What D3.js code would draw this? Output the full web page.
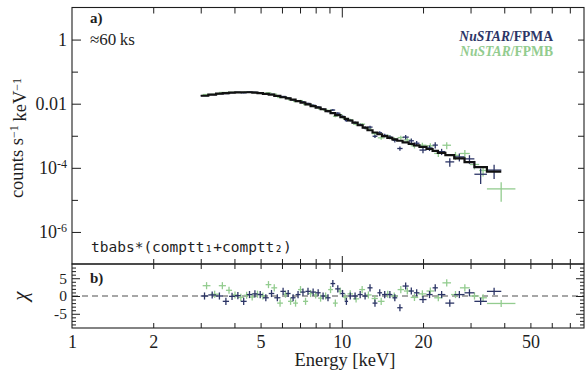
<!DOCTYPE html>
<html><head><meta charset="utf-8">
<script src="https://cdn.jsdelivr.net/npm/d3@7"></script>
<style>body{margin:0;background:#fff}svg{display:block}</style>
</head><body>
<svg id="chart" width="587" height="376"></svg>
<script>
// ---- spectral model (counts s^-1 keV^-1) ----
const modelEnergy = [3.0,3.5,4.0,4.5,5.0,5.5,6.0,6.5,7.0,7.5,8.0,8.5,9.0,9.5,10,11,12,13,14,15,16,17,18,20,22,24,26,28,30,32,34,36,38,40,44];
const modelFlux = [1.70e-2,2.04e-2,2.24e-2,2.29e-2,2.14e-2,1.91e-2,1.62e-2,1.38e-2,1.15e-2,9.55e-3,7.94e-3,6.76e-3,5.62e-3,4.68e-3,3.89e-3,2.75e-3,1.91e-3,1.35e-3,1.07e-3,8.71e-4,7.41e-4,6.46e-4,5.62e-4,4.47e-4,3.47e-4,2.75e-4,2.29e-4,1.82e-4,1.45e-4,1.12e-4,9.33e-5,7.94e-5,7.08e-5,6.31e-5,5.01e-5];

// ---- FPMA spectrum: bin edges (keV), rate, fractional error, residual ----
const fpmaEdges = [3.0,3.2,3.42,3.62,3.82,4.02,4.22,4.44,4.66,4.87,5.1,5.36,5.62,5.92,6.2,6.46,6.74,7.03,7.33,7.66,8.0,8.35,8.7,9.08,9.45,9.88,10.25,10.55,10.95,11.45,11.95,12.45,13.0,13.55,14.1,14.75,15.4,16.05,16.8,17.7,18.5,19.4,20.6,21.7,22.7,24.2,26.1,28.5,31.0,34.5,39.0];
const fpmaFlux = [1.78e-2,1.92e-2,2.04e-2,2.06e-2,2.21e-2,2.26e-2,2.18e-2,2.32e-2,2.27e-2,2.17e-2,
  1.99e-2,1.95e-2,1.71e-2,1.68e-2,1.50e-2,1.31e-2,1.23e-2,1.14e-2,1.02e-2,8.91e-3,
  7.89e-3,6.71e-3,5.74e-3,6.34e-3,5.05e-3,4.02e-3,2.98e-3,3.00e-3,2.56e-3,2.20e-3,
  1.78e-3,1.86e-3,9.64e-4,1.24e-3,1.03e-3,9.10e-4,7.21e-4,4.00e-4,9.06e-4,6.97e-4,
  5.85e-4,3.57e-4,4.17e-4,5.11e-4,3.20e-4,1.53e-4,2.19e-4,1.90e-4,6.3e-5,8.5e-5];
const fpmaRelErr = [.025,.025,.025,.025,.025,.03,.03,.03,.03,.03,.035,.035,.035,.04,.04,.04,.04,.05,.05,.05,.06,.06,.06,.07,.07,.08,.08,.08,.09,.09,.11,.11,.12,.12,.13,.14,.14,.15,.16,.18,.18,.2,.2,.22,.22,.3,.28,.3,.5,.47];
const fpmaChi = [0.0,0.3,0.0,-1.5,-0.1,0.1,-1.5,0.4,0.6,0.4,
  -0.5,0.7,-0.5,1.3,0.7,-0.5,0.4,1.1,1.3,1.1,
  0.9,0.0,-0.5,3.5,2.0,0.7,-1.5,0.0,0.0,0.4,
  0.0,2.3,-2.0,0.9,0.4,0.4,-0.5,-3.3,2.8,1.4,
  0.9,-1.0,0.4,2.3,0.4,-2.0,0.4,0.9,-1.5,1.3];

// ---- FPMB spectrum ----
const fpmbEdges = [3.05,3.26,3.5,3.72,3.92,4.12,4.33,4.55,4.76,4.98,5.22,5.48,5.76,6.05,6.32,6.6,6.88,7.18,7.5,7.83,8.17,8.52,8.9,9.27,9.66,10.06,10.5,11.0,11.6,12.2,12.9,13.6,14.4,15.2,16.1,17.0,18.0,19.2,20.6,22.0,23.6,25.4,27.4,29.8,32.3,34.5,44.0];
const fpmbFlux = [1.93e-2,1.96e-2,2.24e-2,2.26e-2,2.26e-2,2.24e-2,2.31e-2,2.25e-2,2.22e-2,2.09e-2,
  2.19e-2,1.98e-2,1.56e-2,1.57e-2,1.32e-2,1.17e-2,1.25e-2,9.40e-3,9.29e-3,8.09e-3,
  6.82e-3,6.31e-3,6.19e-3,4.07e-3,4.53e-3,3.45e-3,3.14e-3,2.29e-3,2.30e-3,1.64e-3,
  1.17e-3,8.63e-4,9.70e-4,7.85e-4,8.75e-4,7.38e-4,4.88e-4,5.06e-4,4.85e-4,2.81e-4,
  5.06e-4,2.45e-4,2.80e-4,1.27e-4,8.26e-5,2.2e-5];
const fpmbRelErr = [.025,.025,.025,.025,.03,.03,.03,.03,.03,.035,.035,.035,.035,.04,.04,.04,.05,.05,.05,.06,.06,.06,.07,.07,.07,.08,.08,.09,.09,.11,.12,.13,.14,.14,.15,.16,.18,.2,.2,.22,.25,.28,.28,.3,.35,.6];
const fpmbChi = [2.9,0.5,2.9,1.6,0.3,-0.4,0.2,-0.3,0.5,0.0,
  3.2,2.3,-2.0,0.5,-1.5,-2.0,1.8,-1.5,0.7,0.3,
  -0.6,0.0,1.8,-2.0,1.4,-0.3,0.6,-0.8,1.8,0.3,
  -0.7,-1.5,0.5,0.0,1.8,1.4,-0.4,0.6,1.4,-0.5,
  3.7,0.4,2.3,0.0,-0.5,-2.1];

// ---- ticks ----
const xTickLabels = [1,2,5,10,20,50];
const xMinorTicks = [2,3,4,5,6,7,8,9,20,30,40,50,60,70];
const xMajorTicks = [10];
const yTickLabels = [1,1e-2,1e-4,1e-6];
const yMinorTicks = [1e-1,1e-3,1e-5];
const chiTickLabels = [-5,0,5];
const chiMinorTicks = [-8,-7,-6,-4,-3,-2,-1,1,2,3,4,6,7,8];

const colA = '#2c3566', colB = '#93cc8f', ink = '#1e1e1e';
const serif = '"Liberation Serif","Times New Roman",serif';

const L = 72, R = 584, T = 7.5, M = 264, B = 328;
const x = d3.scaleLog().domain([1, 79]).range([L, R]);
const yTop = d3.scaleLog().domain([1e-7, 10]).range([M, T]);
const yRes = d3.scaleLinear().domain([-9, 9]).range([B, M]);

const svg = d3.select('#chart');

// bins with geometric centres
function bins(edges, flux, rel, chi) {
  return flux.map((f, i) => ({
    lo: edges[i], hi: edges[i + 1], c: Math.sqrt(edges[i] * edges[i + 1]),
    f, e: f * rel[i], chi: chi[i]
  }));
}
const binsA = bins(fpmaEdges, fpmaFlux, fpmaRelErr, fpmaChi);
const binsB = bins(fpmbEdges, fpmbFlux, fpmbRelErr, fpmbChi);

// residual zero line
svg.append('line').attr('x1', L).attr('x2', R)
  .attr('y1', yRes(0)).attr('y2', yRes(0))
  .attr('stroke', '#8a8a8a').attr('stroke-width', 1.3).attr('stroke-dasharray', '6,4');

function drawCrosses(data, color) {
  const g = svg.append('g').attr('stroke', color).attr('stroke-width', 1.3).attr('fill', 'none');
  g.selectAll('.h').data(data).join('line')
    .attr('x1', d => x(d.lo)).attr('x2', d => x(d.hi))
    .attr('y1', d => yTop(d.f)).attr('y2', d => yTop(d.f));
  g.selectAll('.v').data(data).join('line')
    .attr('x1', d => x(d.c)).attr('x2', d => x(d.c))
    .attr('y1', d => yTop(Math.max(d.f - d.e, 1e-7))).attr('y2', d => yTop(d.f + d.e));
  const r = svg.append('g').attr('stroke', color).attr('stroke-width', 1.3);
  r.selectAll('.h').data(data).join('line')
    .attr('x1', d => x(d.lo)).attr('x2', d => x(d.hi))
    .attr('y1', d => yRes(d.chi)).attr('y2', d => yRes(d.chi));
  r.selectAll('.v').data(data).join('line')
    .attr('x1', d => x(d.c)).attr('x2', d => x(d.c))
    .attr('y1', d => yRes(d.chi - 1)).attr('y2', d => yRes(d.chi + 1));
}
drawCrosses(binsB, colB);
drawCrosses(binsA, colA);

// folded model, stepped over the FPMA bins
const logModel = d3.scaleLog().domain(modelEnergy).range(modelFlux.map(Math.log10));
const steps = binsA.map(d => [d.lo, Math.pow(10, logModel(d.c))]);
steps.push([binsA[binsA.length - 1].hi, steps[steps.length - 1][1]]);
svg.append('path').datum(steps)
  .attr('d', d3.line().x(d => x(d[0])).y(d => yTop(d[1])).curve(d3.curveStepAfter))
  .attr('fill', 'none').attr('stroke', '#111').attr('stroke-width', 2.2);

// ---- axes ----
function axis(gen, tx, ty, values, size, fmt, pad, fs) {
  const g = svg.append('g').attr('transform', `translate(${tx},${ty})`)
    .call(gen.tickValues(values).tickSize(-size).tickSizeOuter(0)
      .tickPadding(pad || 4).tickFormat(fmt || (() => '')));
  g.select('.domain').remove();
  g.selectAll('line').attr('stroke', ink).attr('stroke-width', 1);
  g.selectAll('text').attr('font-family', serif).attr('font-size', fs || 18).attr('fill', ink);
  return g;
}
// top panel
const yLab = axis(d3.axisLeft(yTop), L, 0, yTickLabels, 9, d => d, 5);
yLab.selectAll('text').each(function (d) {
  const t = d3.select(this).text(null);
  const p = Math.round(Math.log10(d));
  if (p >= -2) t.text(d === 1 ? '1' : '0.01');
  else {
    t.append('tspan').text('10');
    t.append('tspan').attr('dy', '-0.5em').attr('font-size', 12).text(String(p));
  }
});
axis(d3.axisLeft(yTop), L, 0, yMinorTicks, 6);
axis(d3.axisRight(yTop), R, 0, yTickLabels, 6);
axis(d3.axisRight(yTop), R, 0, yMinorTicks, 6);
axis(d3.axisTop(x), 0, T, xMinorTicks, 6);
axis(d3.axisTop(x), 0, T, xMajorTicks, 10);
axis(d3.axisBottom(x), 0, M, xMinorTicks, 5);
axis(d3.axisBottom(x), 0, M, xMajorTicks, 8);
// residual panel
axis(d3.axisTop(x), 0, M, xMinorTicks, 5);
axis(d3.axisTop(x), 0, M, xMajorTicks, 8);
axis(d3.axisBottom(x), 0, B, xMinorTicks, 5);
axis(d3.axisBottom(x), 0, B, xMajorTicks, 8);
axis(d3.axisBottom(x), 0, B, xTickLabels, 0, d => String(d), 7);
axis(d3.axisLeft(yRes), L, 0, chiTickLabels, 8, d => String(d), 5, 15.5);
axis(d3.axisLeft(yRes), L, 0, chiMinorTicks, 4);
axis(d3.axisRight(yRes), R, 0, chiTickLabels, 8);
axis(d3.axisRight(yRes), R, 0, chiMinorTicks, 4);

// frames
[[T, M], [M, B]].forEach(([a, b]) =>
  svg.append('rect').attr('x', L).attr('y', a).attr('width', R - L).attr('height', b - a)
    .attr('fill', 'none').attr('stroke', ink).attr('stroke-width', 1.1));

// ---- labels ----
const yl = svg.append('text').attr('transform', 'translate(23,138) rotate(-90)')
  .attr('text-anchor', 'middle').attr('font-family', serif).attr('font-size', 18.5).attr('fill', ink);
yl.append('tspan').text('counts s');
yl.append('tspan').attr('dy', '-0.45em').attr('font-size', 12).text('\u22121');
yl.append('tspan').attr('dy', '0.45em').text('\u2009keV');
yl.append('tspan').attr('dy', '-0.45em').attr('font-size', 12).text('\u22121');

svg.append('text').attr('transform', `translate(27,${yRes(0)}) rotate(-90)`)
  .attr('text-anchor', 'middle').attr('font-family', serif).attr('font-style', 'italic')
  .attr('font-size', 21).attr('fill', ink).text('\u03c7');

svg.append('text').attr('x', 345).attr('y', 366).attr('text-anchor', 'middle')
  .attr('font-family', serif).attr('font-size', 18.5).attr('fill', ink).text('Energy [keV]');

svg.append('text').attr('x', 90).attr('y', 23).attr('font-family', serif).attr('font-weight', 'bold')
  .attr('font-size', 15).attr('fill', ink).text('a)');
svg.append('text').attr('x', 90).attr('y', 45).attr('font-family', serif)
  .attr('font-size', 17).attr('fill', ink).text('\u224860\u2009ks');
svg.append('text').attr('x', 90).attr('y', 283).attr('font-family', serif).attr('font-weight', 'bold')
  .attr('font-size', 15).attr('fill', ink).text('b)');
svg.append('text').attr('x', 91).attr('y', 252).attr('font-family', '"DejaVu Sans Mono",monospace')
  .attr('font-size', 14.5).attr('fill', ink).text('tbabs*(comptt\u2081+comptt\u2082)');

// legend
[['/FPMA', colA, 41], ['/FPMB', colB, 55.5]].forEach(([s, c, yy]) => {
  const t = svg.append('text').attr('x', 553).attr('y', yy).attr('text-anchor', 'end')
    .attr('font-family', serif).attr('font-weight', 'bold').attr('font-size', 13.6).attr('fill', c);
  t.append('tspan').attr('font-style', 'italic').text('NuSTAR');
  t.append('tspan').text(s);
});
</script>
</body></html>
